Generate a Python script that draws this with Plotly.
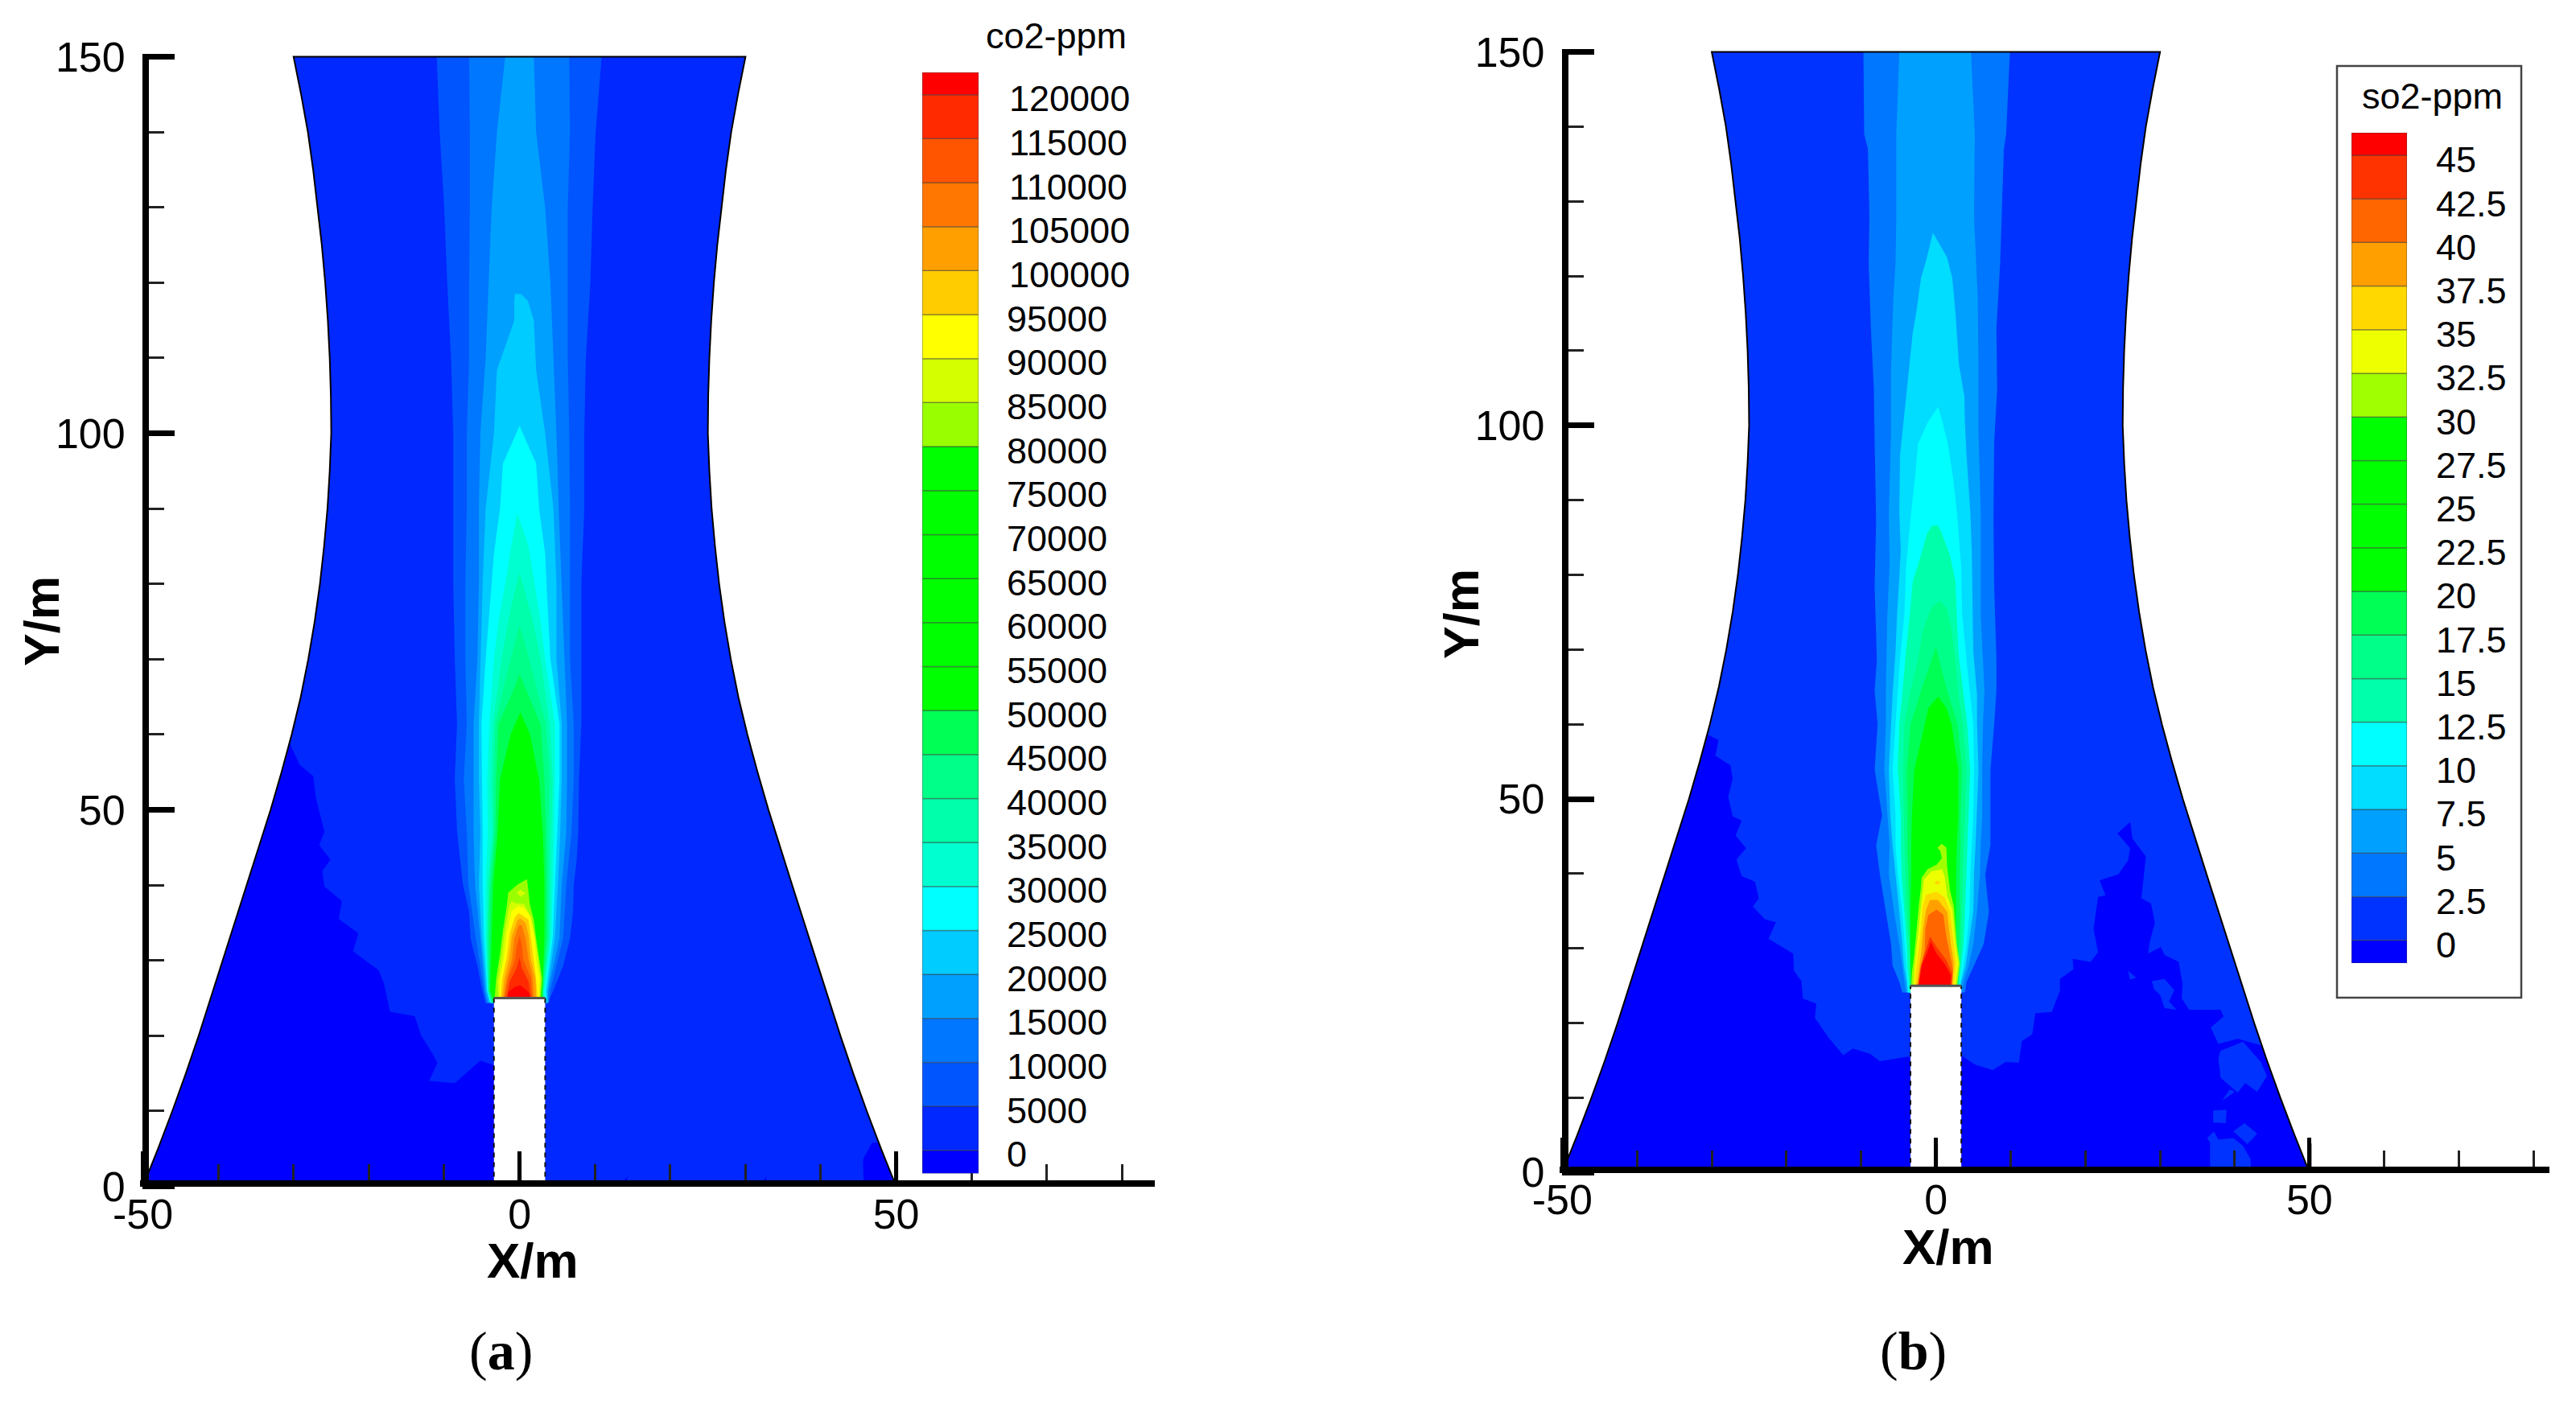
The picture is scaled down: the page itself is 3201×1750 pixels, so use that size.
import plotly.graph_objects as go

W, H = 3201, 1750
PAGE_MARGIN = 8                 # the browser's default body margin around the plot
FIG_W, FIG_H = W - PAGE_MARGIN, H - PAGE_MARGIN

# ---------- tower wall (half width against height) ----------
tower_y = [0, 5, 10, 15, 20, 25, 30, 35, 40, 45, 50, 55, 60, 65, 70, 75, 80, 85, 90, 95, 100, 105, 110, 115, 120, 125, 130, 135, 140, 145, 150]
tower_hw = [50, 48, 46.1, 44.3, 42.6, 41, 39.4, 37.8, 36.2, 34.6, 33.05, 31.6, 30.25, 29.05, 28.05, 27.2, 26.5, 25.95, 25.5, 25.2, 25, 25.05, 25.2, 25.45, 25.8, 26.25, 26.8, 27.4, 28.1, 29, 30]
stack_hw = 3.4
stack_top = 25

# ---------- legends ----------
co2_levels = [5000 * i for i in range(25)]
co2_labels = [str(v) for v in co2_levels]
co2_band_colors = ["#0000ff", "#0028ff", "#0055ff", "#0077ff", "#00a0ff", "#00ccff", "#00ffff", "#00ffd0",
                   "#00ffaa", "#00ff88", "#00ff55", "#00ff00", "#00ff00", "#00ff00", "#00ff00", "#00ff00",
                   "#00ff00", "#99ff00", "#d4ff00", "#ffff00", "#ffcc00", "#ffa000", "#ff7700", "#ff5500",
                   "#ff2a00", "#ff0000"]
co2_low, co2_high = -2625, 122530

so2_levels = [2.5 * i for i in range(19)]
so2_labels = ["0", "2.5", "5", "7.5", "10", "12.5", "15", "17.5", "20", "22.5", "25", "27.5", "30", "32.5", "35",
              "37.5", "40", "42.5", "45"]
so2_band_colors = ["#0000ff", "#0033ff", "#0077ff", "#00a0ff", "#00ddff", "#00ffff", "#00ffaa", "#00ff88",
                   "#00ff55", "#00ff00", "#00ff00", "#00ff00", "#00ff00", "#a0ff00", "#eeff00", "#ffd800",
                   "#ffa000", "#ff6600", "#ff3300", "#ff0000"]
so2_low, so2_high = -1.31, 46.29

x_tick_vals = [-50, 0, 50]
x_tick_text = ["-50", "0", "50"]
y_tick_vals = [0, 50, 100, 150]
y_tick_text = ["0", "50", "100", "150"]

# ---------- panel (a): low-concentration patches ----------
a_dark_x = [-30.5, -29.2, -27.4, -27, -25.9, -26.6, -25.1, -26.2, -25.9, -23.6, -24, -21.4, -22.1, -18.7, -18, -17.2,
            -13.9, -13.1, -11.6, -10.9, -12, -8.6, -5.2, -3.4, -3.4]
a_dark_y = [58.8, 56, 54.5, 51.4, 47.1, 45.3, 43.4, 41.9, 39.8, 37.9, 35.5, 33.6, 31.2, 28.7, 26.9, 23.2, 22.6,
            20.1, 17.7, 16.4, 14, 13.7, 16.7, 16.1, 0]
a_dark2_x = [45.7, 45.6, 46.8, 47.6, 50]
a_dark2_y = [0, 3.6, 5.8, 5.8, 0]
a_dark3_x = [13, 14.5, 13.8]
a_dark3_y = [0, 1.4, 0]
a_dark4_x = [31.9, 32.8, 32.6]
a_dark4_y = [0, 1.4, 0]

# ---------- panel (a): plume contours ----------
a_5000_y = [24.3, 25.8, 29.3, 32.9, 36.5, 40, 43.5, 47.2, 54.2, 61.4, 70, 80, 90, 100, 110, 120, 130, 140, 150]
a_5000_l = [-4.5, -4.9, -5.6, -6.5, -6.7, -7.5, -7.9, -8.3, -8.6, -8.3, -8.6, -8.8, -8.8, -8.8, -9.1, -9.6, -10, -10.6, -11]
a_5000_r = [3.7, 4.4, 5.8, 6.7, 7.1, 7.2, 7.6, 7.8, 7.9, 8.2, 8.2, 8.2, 8.6, 8.6, 8.8, 9.4, 9.7, 10.1, 10.9]

a_y = [24.4, 26, 33, 40, 47, 54, 61.4, 70, 80, 90, 100, 110, 120, 130, 140, 150]
a_10000_l = [-4.4, -4.7, -5.8, -6.8, -7, -7.4, -7, -7.2, -7.2, -7, -7, -6.7, -6.7, -6.6, -6.6, -6.7]
a_10000_r = [3.9, 4.1, 5.8, 6.2, 6.9, 7.2, 7.2, 6.7, 6.7, 6.7, 6.6, 6.4, 6.4, 6.4, 6.7, 6.6]
a_15000_l = [-4.2, -4.6, -5.2, -5.9, -6.1, -6.1, -6.1, -5.6, -5.4, -5.4, -5.2, -4.5, -4.1, -3.7, -3, -1.9]
a_15000_r = [3.8, 3.8, 5.3, 5.6, 6.2, 6.3, 6.3, 6, 5.6, 5.2, 4.9, 4.5, 4.1, 3.4, 2.2, 1.9]

a_20000_y = [24.4, 26, 33, 40, 47, 54, 61.4, 70, 80, 90, 100, 108.4, 115, 117.6, 118.5]
a_20000_l = [-4, -4.4, -5, -5.4, -5.2, -5.4, -5.4, -5.2, -4.9, -4.5, -3.4, -3, -0.7, -0.7, -0.6]
a_20000_r = [3.7, 3.7, 4.7, 5.1, 5.4, 5.6, 5.6, 4.9, 4.9, 4.5, 3.4, 2.2, 1.9, 1.1, 0.2]

a_25000_y = [24.4, 26, 33, 40, 47, 54, 61.4, 70, 77.5, 84, 90, 96, 98.5, 101]
a_25000_l = [-3.9, -4.3, -4.7, -4.9, -4.9, -5, -5.06, -4.5, -3.9, -3.4, -2.6, -2.2, -1.1, 0]
a_25000_r = [3.5, 3.5, 4.4, 4.7, 5, 5.3, 5.3, 4.1, 3.7, 3.4, 2.6, 2.2, 1.1, 0]

a_30000_y = [24.4, 26, 33, 40, 47, 54, 61.4, 70, 75, 80, 85, 89.4]
a_30000_l = [-3.8, -4.2, -4.5, -4.5, -4.2, -4.3, -4, -3.4, -2.8, -1.9, -1.1, -0.3]
a_30000_r = [3.4, 3.3, 4.2, 4.4, 4.6, 4.7, 4.7, 3.4, 2.8, 2, 1.2, -0.3]

a_35000_y = [24.4, 26, 33, 40, 47, 54, 61.4, 70, 75, 78, 81.5]
a_35000_l = [-3.7, -4.2, -4.3, -4.2, -3.6, -3.8, -3.5, -2.4, -1.5, -0.9, 0]
a_35000_r = [3.3, 3.2, 4, 4.1, 4.2, 4.4, 4, 2.8, 1.8, 1, 0]

a_40000_y = [24.4, 26, 33, 40, 47, 54, 61.4, 68, 71, 74.5]
a_40000_l = [-3.6, -4.1, -4.2, -4, -3.4, -3.4, -3.2, -1.7, -0.9, 0]
a_40000_r = [3.2, 3.1, 3.8, 3.8, 3.8, 4, 3.5, 1.8, 1, 0]

a_45000_y = [24.4, 26, 33, 40, 47, 54, 61.4, 65, 68]
a_45000_l = [-3.5, -4, -4, -3.8, -3.2, -3.1, -2.8, -1.2, 0]
a_45000_r = [3.1, 3, 3.6, 3.6, 3.5, 3.3, 2.8, 1.3, 0]

a_50000_y = [24.4, 26, 33, 40, 47, 54, 60, 63]
a_50000_l = [-3.4, -3.9, -3.7, -3.5, -2.9, -2.6, -1.2, 0.1]
a_50000_r = [3, 3, 3.3, 3.3, 3.1, 2.6, 1.4, 0.1]

# ---------- panel (a): flame contours ----------
a_80000_x = [-3.3, -3.1, -2.6, -2.2, -1.7, -1.5, -0.25, 1, 1.35, 1.9, 2.2, 2.6, 3, 2.8]
a_80000_y = [25, 27.6, 30.8, 34, 37.2, 39, 40.1, 40.8, 37.5, 35.4, 32.9, 30.1, 27.6, 25]
a_85000_x = [-2.8, -2.9, -2.4, -2, -1.4, -1, -0.6, 0.6, 1.5, 2.1, 2.5, 2.8, 2.7]
a_85000_y = [25, 27.2, 30.1, 33.6, 37.2, 37.9, 37.6, 37.5, 35.8, 32.9, 30.1, 27.6, 25]
a_85000b_x = [-0.4, 0.1, 0.8, 0.1]
a_85000b_y = [39, 39.4, 38.9, 38.5]
a_90000_x = [-2.7, -2.6, -2.1, -1.7, -1.1, -0.25, 0.6, 1.5, 2, 2.2, 2.7, 2.6]
a_90000_y = [25, 27.6, 30.1, 33.6, 36.5, 37.2, 37, 35.8, 32.9, 30.1, 27.6, 25]
a_95000_x = [-2.5, -2.3, -1.7, -1.3, -0.6, -0.1, 1.2, 1.5, 1.9, 2.2, 2.4]
a_95000_y = [25, 27.6, 30.4, 33.6, 35.8, 36.3, 35.4, 32.9, 30.1, 27.6, 25]
a_100000_x = [-2.3, -2, -1.4, -1, -0.25, 0.1, 0.8, 1.2, 1.5, 2.1, 2.2]
a_100000_y = [25, 27.6, 30.1, 33.3, 35.4, 35.6, 35, 33.3, 30.1, 27.6, 25]
a_105000_x = [-2.1, -1.7, -1, -0.7, -0.1, 0.3, 0.8, 1.2, 1.7, 1.9]
a_105000_y = [25, 27.6, 30.1, 32.9, 34.7, 34.7, 32.9, 30.1, 27.9, 25]
a_110000_x = [-2, -1.5, -0.6, -0.4, 0, 0.3, 0.5, 1.5, 1.7]
a_110000_y = [25, 27.6, 30.1, 31.8, 33.3, 32.2, 30.1, 27.6, 25]
a_115000_x = [-1.7, -1.3, -0.4, 0, 0.3, 1.2, 1.5]
a_115000_y = [25, 27.2, 29, 30.4, 29, 27.2, 25]
a_120000_x = [-1.6, -1.5, -0.6, 0.1, 1.2, 1.5]
a_120000_y = [25, 25.8, 26.5, 26.7, 25.8, 25]

# ---------- panel (b): low-concentration patches ----------
b_dark_x = [-30.5, -29.1, -29.5, -27.5, -27.2, -27.8, -27.2, -26, -26.8, -25.4, -26.7, -26, -24.2, -23.7, -24.5, -22.9,
            -21.4, -22.4, -19.1, -19, -18, -17.8, -16, -16.2, -14.4, -12.4, -11.1, -8.8, -7.5, -3.9, -3.4, -3.4]
b_dark_y = [58.6, 57.9, 55.8, 54.5, 52.7, 50.3, 47.7, 47.1, 45.1, 43.4, 41.9, 39.7, 38.9, 36.7, 35.6, 33.9, 33.5,
            31.3, 29.3, 27, 25.6, 23.3, 22.6, 20.7, 18.1, 15.7, 16.6, 15.9, 14.9, 15.5, 15.4, 0]
b_dark2_x = [3.3, 5.3, 7.6, 9.3, 11.1, 11.5, 12.9, 13.3, 15.5, 16.6, 16.6, 18.4, 18.3, 20.7, 21.7, 21.1, 21.7, 22.7,
             21.9, 24.4, 25.7, 26, 24.3, 26, 26.3, 28.1, 27.8, 27.5, 28.8, 29.3, 28.6, 28.4, 30.1, 30.6, 32.5, 33,
             32.9, 33.9, 38.1, 38.5, 36.8, 37.8, 40.4, 43.6, 46.1, 50, 3.3]
b_dark2_y = [15.7, 14.4, 13.7, 14.8, 14.7, 17.6, 18.5, 21.3, 21.5, 24.3, 25.9, 27.2, 28.6, 28.2, 29.5, 32.6, 36.9,
             37.1, 39.1, 39.9, 41.7, 43.4, 45.4, 46.9, 44.7, 42.3, 39.5, 36.7, 36, 33.4, 30.8, 29.3, 30.2, 29.1,
             28.2, 25.2, 23.3, 21.8, 21.8, 20.9, 19.4, 17.2, 17.9, 17, 10, 0, 0]
b_patch_a_x = [38.1, 41.1, 43.5, 44.3, 43, 41.4, 40.4, 38.1, 37.8]
b_patch_a_y = [16.3, 17.5, 14.8, 12.9, 10.8, 12, 10.7, 12.7, 15.3]
b_patch_b_x = [28.9, 30.6, 31.9, 31.2, 32.2, 30.6, 30, 29.2]
b_patch_b_y = [25.6, 25.9, 24.4, 22.9, 21.8, 22, 23.8, 24.5]
b_patch_c_x = [25.7, 26.8, 26]
b_patch_c_y = [27, 26.1, 25.8]
b_patch_d_x = [38.3, 40, 39.3]
b_patch_d_y = [9.6, 10.8, 11.1]
b_patch_e_x = [37.1, 38.9, 38.8, 37.1]
b_patch_e_y = [8.3, 8.4, 6.6, 6.7]
b_patch_f_x = [41.3, 43, 41.7, 39.8]
b_patch_f_y = [6.6, 5.2, 3.8, 5.5]
b_patch_g_x = [36.7, 36.7, 36.3, 37.2, 37.8, 39.8, 41.1, 42.1, 42.2]
b_patch_g_y = [0, 4, 4.6, 5.5, 4.4, 4.6, 3.6, 1.8, 0]

# ---------- panel (b): plume contours ----------
b_low = [24.1, 25.5, 27.7, 30.6, 34.9, 39.9, 43.8, 47.8, 53.9, 60]

b_2500_y = b_low + [64.5, 68.6, 78.5, 87.3, 97.8, 104.8, 113, 121.7, 128, 137, 139, 150]
b_2500_l = [-4.5, -4.9, -5.8, -6, -6.7, -7.5, -8, -7.2, -8.2, -7.8, -8.2, -7.9, -8.2, -8, -8.2, -8.3, -8.7, -9, -8.9, -9.1, -9.6, -9.7]
b_2500_r = [3.9, 4.1, 5.1, 6.4, 7.1, 6.6, 7.3, 7.3, 7.3, 7.8, 8.1, 8.1, 7.8, 7.7, 7.8, 8.2, 8.1, 8.6, 8.8, 9.1, 9.4, 9.9]

b_5_y = b_low + [64.5, 74.5, 81.5, 88.5, 99, 107.7, 117, 121.7, 128, 139, 150]
b_5_l = [-4, -4.2, -4.5, -4.9, -5.6, -6.3, -6.2, -6.5, -6.9, -6.7, -6.7, -6.5, -6.2, -6.3, -6, -6, -5.7, -5.4, -5.3, -5.3, -4.9]
b_5_r = [3.5, 3.7, 4.4, 5, 5.5, 5.9, 6, 6.2, 6.2, 6.3, 6.5, 6, 6, 6, 5.7, 5.7, 5.6, 5.4, 5.1, 5.2, 4.7]

b_75_y = b_low + [64, 69.8, 74.5, 83.2, 88.5, 96, 100, 104, 108, 112.4, 115.3, 119.7, 122.5, 125.8]
b_75_l = [-3.8, -3.9, -4.3, -4.5, -4.9, -5.4, -5.8, -6.1, -6.3, -6, -5.8, -5.4, -5.2, -4.7, -4.9, -4.8, -4.4, -4, -3.6, -3.1, -2.6, -2, -1.2, -0.4]
b_75_r = [3.3, 3.4, 4, 4.4, 5, 5.1, 5.3, 5.5, 5.7, 5.5, 5.5, 5, 4.9, 4.8, 4.6, 4.1, 3.9, 3.8, 3.1, 2.8, 2.6, 2.2, 1.5, -0.4]

b_10_y = b_low + [67.5, 75, 81, 88.5, 93, 97.5, 100.4, 102.5]
b_10_l = [-3.7, -3.8, -4, -4.2, -4.5, -5.1, -5.4, -5.4, -5.8, -5.4, -4.9, -4.2, -4, -3.3, -2.8, -2.4, -1.1, 0.3]
b_10_r = [3.2, 3.3, 3.7, 4.1, 4.5, 4.6, 4.8, 5, 5.1, 5, 4.2, 3.5, 3.4, 2.8, 2.3, 1.6, 0.9, 0.3]

b_125_y = b_low + [64, 69.8, 74.5, 79.1, 82.6, 85.5, 86.6]
b_125_l = [-3.5, -3.6, -3.8, -3.9, -4.2, -4.6, -4.7, -4.7, -5.1, -4.9, -4.5, -4, -3.5, -3.1, -2, -1.2, -0.5]
b_125_r = [3, 3.2, 3.4, 3.7, 3.9, 4.1, 4.2, 4.4, 4.6, 4.2, 3.7, 3, 2.8, 2.6, 1.9, 0.8, 0.3]

b_15_y = b_low + [64, 68.6, 72.7, 75.6, 76.5]
b_15_l = [-3.4, -3.5, -3.5, -3.6, -3.9, -4.1, -4.2, -4.3, -4.4, -4.2, -3.5, -2.4, -1.7, -0.6, 0.5]
b_15_r = [2.9, 3, 3.2, 3.4, 3.5, 3.6, 3.7, 3.9, 4.1, 3.6, 3, 2.6, 2.1, 1.4, 0.5]

b_175_y = b_low + [64.5, 68, 70.4]
b_175_l = [-3.3, -3.4, -3.4, -3.5, -3.6, -3.7, -3.8, -3.8, -3.9, -3.4, -2, -0.8, 0]
b_175_r = [2.8, 2.9, 3, 3.1, 3.2, 3.2, 3.3, 3.3, 3.5, 2.9, 1.5, 0.6, 0]

b_20_y = b_low + [62.2, 63.7]
b_20_l = [-3.3, -3.3, -3.4, -3.4, -3.4, -3.3, -3.3, -3.2, -2.9, -1.5, -1, 0.3]
b_20_r = [2.6, 2.7, 2.7, 2.7, 2.7, 2.7, 2.8, 3, 3, 2.1, 1.4, 0.3]

# ---------- panel (b): flame contours ----------
b_30_x = [-3.3, -3.2, -2.9, -2.6, -2.3, -2, -1.9, -1.1, 0.1, 0.8, 0.6, 0.2, 0.8, 1.4, 1.5, 1.9, 2.4, 2.8, 3.2, 2.8]
b_30_y = [24.8, 26.8, 29.1, 32.7, 35.6, 38.1, 39.5, 40.6, 41.2, 42.1, 43, 43.5, 44, 43.5, 41, 37.7, 35.6, 30.6, 28, 24.8]
b_325_x = [-3, -2.9, -2.7, -2.3, -2, -1.8, -1.6, -0.6, 0.8, 1.2, 1.5, 2.2, 2.6, 3, 2.6]
b_325_y = [24.8, 26.8, 29.1, 32.7, 35.6, 37.7, 39.2, 40.3, 40.6, 39.5, 37, 35.2, 30.6, 28, 24.8]
b_35_x = [-2.8, -2.7, -2.4, -2, -1.8, -1.3, 0.1, 1.2, 1.9, 2.4, 2.7, 2.4]
b_35_y = [24.8, 26.8, 29.1, 32.7, 35.6, 37.2, 37.6, 36.8, 34.9, 30.6, 28, 24.8]
b_35b_x = [-0.25, 0.2, 0.65, 0.2]
b_35b_y = [38.8, 39.1, 38.8, 38.5]
b_375_x = [-2.6, -2.3, -2, -1.7, -1.3, -0.8, 0.3, 1.5, 2, 2.4, 2.2]
b_375_y = [24.8, 27, 29.1, 32.7, 35.2, 36.5, 36.5, 34.9, 30.6, 28, 24.8]
b_40_x = [-2.4, -2.1, -1.5, -1.4, -1, 0.1, 1, 1.4, 1.9, 2.3, 2]
b_40_y = [24.8, 27, 29.8, 32.7, 34.5, 35.2, 34.5, 31.6, 29.1, 27, 24.8]
b_425_x = [-2.4, -2, -1.3, -0.8, 0.1, 1.4, 2.2, 2.1]
b_425_y = [25, 27.7, 29.9, 31.6, 30.2, 28.4, 26.6, 25]
b_45_x = [-2.3, -1.9, -1.15, -0.7, 0.1, 1.2, 2, 1.9]
b_45_y = [25, 27.7, 29.5, 30.9, 29.3, 27.9, 26.4, 25]

# ---------- panel placement (pixels of the 3201x1750 page) ----------
PANELS = {
    "a": dict(x0=645.6, sx=9.36, y0=1474.6, sy=9.36, xmax=84.3, xaxis="x", yaxis="y"),
    "b": dict(x0=2405.6, sx=9.285, y0=1457.3, sy=9.285, xmax=82.1, xaxis="x2", yaxis="y2"),
}
PAD = 0.4
X_TICK_LEN = 36


def fx(px):
    return (px - PAGE_MARGIN) / FIG_W


def fy(py):
    return (FIG_H - (py - PAGE_MARGIN)) / FIG_H


def px_x(p, v):
    return p["x0"] + v * p["sx"]


def px_y(p, v):
    return p["y0"] - v * p["sy"]


def hump(y, l, r):
    return l + r[::-1], y + y[::-1]


fig = go.Figure()


def poly(p, xs, ys, color):
    fig.add_trace(go.Scatter(x=xs, y=ys, mode="lines", fill="toself", fillcolor=color,
                             line=dict(width=0, color=color), hoverinfo="skip", showlegend=False,
                             xaxis=p["xaxis"], yaxis=p["yaxis"]))


def draw_panel(p, base_color):
    left = [-h for h in tower_hw]
    poly(p, left + tower_hw[::-1], tower_y + tower_y[::-1], base_color)


def draw_frame(p):
    left = [-h for h in tower_hw]
    # tower outline
    fig.add_trace(go.Scatter(x=left + tower_hw[::-1], y=tower_y + tower_y[::-1], mode="lines",
                             line=dict(color="#000000", width=2), hoverinfo="skip", showlegend=False,
                             xaxis=p["xaxis"], yaxis=p["yaxis"]))
    # stack
    poly(p, [-stack_hw, -stack_hw, stack_hw, stack_hw], [0, stack_top, stack_top, 0], "#ffffff")
    for sx in (-stack_hw, stack_hw):
        fig.add_trace(go.Scatter(x=[sx, sx], y=[0, stack_top], mode="lines",
                                 line=dict(color="#111111", width=2, dash="6px,6px"), hoverinfo="skip",
                                 showlegend=False, xaxis=p["xaxis"], yaxis=p["yaxis"]))
    fig.add_trace(go.Scatter(x=[-stack_hw, stack_hw], y=[stack_top, stack_top], mode="lines",
                             line=dict(color="#555555", width=3), hoverinfo="skip", showlegend=False,
                             xaxis=p["xaxis"], yaxis=p["yaxis"]))
    # long x ticks at the labelled positions
    for tv in x_tick_vals[1:]:
        fig.add_trace(go.Scatter(x=[tv, tv], y=[0, X_TICK_LEN / p["sy"]], mode="lines",
                                 line=dict(color="#000000", width=5), hoverinfo="skip", showlegend=False,
                                 xaxis=p["xaxis"], yaxis=p["yaxis"]))


# ---------- panel (a) ----------
pa = PANELS["a"]
co2_color = dict(zip(co2_levels, co2_band_colors[1:]))
draw_panel(pa, co2_color[0])
wall_up = [i for i, y in enumerate(tower_y) if 0 < y <= 55]
poly(pa, a_dark_x + [-tower_hw[0]] + [-tower_hw[i] for i in wall_up],
     a_dark_y + [0] + [tower_y[i] for i in wall_up], co2_band_colors[0])
poly(pa, a_dark2_x, a_dark2_y, co2_band_colors[0])
poly(pa, a_dark3_x, a_dark3_y, co2_band_colors[0])
poly(pa, a_dark4_x, a_dark4_y, co2_band_colors[0])

for lev, y, l, r in [
    (5000, a_5000_y, a_5000_l, a_5000_r),
    (10000, a_y, a_10000_l, a_10000_r),
    (15000, a_y, a_15000_l, a_15000_r),
    (20000, a_20000_y, a_20000_l, a_20000_r),
    (25000, a_25000_y, a_25000_l, a_25000_r),
    (30000, a_30000_y, a_30000_l, a_30000_r),
    (35000, a_35000_y, a_35000_l, a_35000_r),
    (40000, a_40000_y, a_40000_l, a_40000_r),
    (45000, a_45000_y, a_45000_l, a_45000_r),
    (50000, a_50000_y, a_50000_l, a_50000_r),
]:
    xs, ys = hump(y, l, r)
    poly(pa, xs, ys, co2_color[lev])

for lev, xs, ys in [
    (80000, a_80000_x, a_80000_y),
    (85000, a_85000_x, a_85000_y),
    (85000, a_85000b_x, a_85000b_y),
    (90000, a_90000_x, a_90000_y),
    (95000, a_95000_x, a_95000_y),
    (100000, a_100000_x, a_100000_y),
    (105000, a_105000_x, a_105000_y),
    (110000, a_110000_x, a_110000_y),
    (115000, a_115000_x, a_115000_y),
    (120000, a_120000_x, a_120000_y),
]:
    poly(pa, xs, ys, co2_color[lev])
draw_frame(pa)

# ---------- panel (b) ----------
pb = PANELS["b"]
so2_color = dict(zip(so2_levels, so2_band_colors[1:]))
draw_panel(pb, so2_color[0])
poly(pb, b_dark_x + [-tower_hw[0]] + [-tower_hw[i] for i in wall_up],
     b_dark_y + [0] + [tower_y[i] for i in wall_up], so2_band_colors[0])
poly(pb, b_dark2_x, b_dark2_y, so2_band_colors[0])
for xs, ys in [(b_patch_a_x, b_patch_a_y), (b_patch_b_x, b_patch_b_y), (b_patch_c_x, b_patch_c_y),
               (b_patch_d_x, b_patch_d_y), (b_patch_e_x, b_patch_e_y), (b_patch_f_x, b_patch_f_y),
               (b_patch_g_x, b_patch_g_y)]:
    poly(pb, xs, ys, so2_color[0])

for lev, y, l, r in [
    (2.5, b_2500_y, b_2500_l, b_2500_r),
    (5.0, b_5_y, b_5_l, b_5_r),
    (7.5, b_75_y, b_75_l, b_75_r),
    (10.0, b_10_y, b_10_l, b_10_r),
    (12.5, b_125_y, b_125_l, b_125_r),
    (15.0, b_15_y, b_15_l, b_15_r),
    (17.5, b_175_y, b_175_l, b_175_r),
    (20.0, b_20_y, b_20_l, b_20_r),
]:
    xs, ys = hump(y, l, r)
    poly(pb, xs, ys, so2_color[lev])

for lev, xs, ys in [
    (30.0, b_30_x, b_30_y),
    (32.5, b_325_x, b_325_y),
    (35.0, b_35_x, b_35_y),
    (37.5, b_375_x, b_375_y),
    (35.0, b_35b_x, b_35b_y),
    (40.0, b_40_x, b_40_y),
    (42.5, b_425_x, b_425_y),
    (45.0, b_45_x, b_45_y),
]:
    poly(pb, xs, ys, so2_color[lev])
draw_frame(pb)


# ---------- legend bars ----------
def legend_bar(levels, low, high, colors, xaxis, yaxis):
    edges = [low] + levels + [high]
    fig.add_trace(go.Bar(x=[0] * len(colors), y=[edges[i + 1] - edges[i] for i in range(len(colors))],
                         base=edges[:-1], width=1, marker=dict(color=colors, line=dict(color="rgba(60,60,60,0.45)", width=1.5)),
                         hoverinfo="skip", showlegend=False, xaxis=xaxis, yaxis=yaxis))


legend_bar(co2_levels, co2_low, co2_high, co2_band_colors, "x3", "y3")
legend_bar(so2_levels, so2_low, so2_high, so2_band_colors, "x4", "y4")

TICK_FONT = dict(family="Liberation Sans", size=52, color="#000000")


def axes_for(p):
    xl = px_x(p, -50 - PAD)
    xr = px_x(p, p["xmax"])
    yb = px_y(p, -PAD)
    yt = px_y(p, 150 + PAD)
    line_x = px_x(p, -50) + 3.5
    line_y = p["y0"] - 3.5
    xa = dict(domain=[fx(xl), fx(xr)], range=[-50 - PAD, p["xmax"]], anchor="free", automargin=False,
              position=fy(line_y), showgrid=False, zeroline=False, showline=True, linecolor="#000000",
              linewidth=8, ticks="inside", tickmode="array", tickvals=x_tick_vals, ticktext=x_tick_text,
              ticklen=X_TICK_LEN, tickwidth=5,
              tickcolor="#000000", tickfont=TICK_FONT, ticklabelstandoff=-11,
              minor=dict(ticks="inside", dtick=10, tick0=0, ticklen=20, tickwidth=2.5, tickcolor="#222222"))
    ya = dict(domain=[fy(yb), fy(yt)], range=[-PAD, 150 + PAD], anchor="free", automargin=False,
              position=fx(line_x), showgrid=False, zeroline=False, showline=True, linecolor="#000000",
              linewidth=8, ticks="inside", tickmode="array", tickvals=y_tick_vals, ticktext=y_tick_text,
              ticklen=32, tickwidth=7,
              tickcolor="#000000", tickfont=TICK_FONT, ticklabelstandoff=11,
              minor=dict(ticks="inside", dtick=10, tick0=0, ticklen=19, tickwidth=2.5, tickcolor="#222222"))
    return xa, ya


xa1, ya1 = axes_for(pa)
xa2, ya2 = axes_for(pb)


def hidden_x(px0, px1):
    return dict(domain=[fx(px0), fx(px1)], range=[-0.5, 0.5], visible=False, fixedrange=True, automargin=False)


def hidden_y(pt, pb_, rng):
    return dict(domain=[fy(pb_), fy(pt)], range=rng, visible=False, fixedrange=True, automargin=False)


annotations = []


def text(x, y, s, size, xanchor="center", family="Liberation Sans", angle=0):
    annotations.append(dict(x=fx(x), y=fy(y), xref="paper", yref="paper", text=s, showarrow=False,
                            xanchor=xanchor, yanchor="middle", textangle=angle,
                            font=dict(family=family, size=size, color="#000000")))


for lev, lab in zip(co2_levels, co2_labels):
    annotations.append(dict(x=fx(1249 if lev < 100000 else 1252), y=lev, xref="paper", yref="y3", text=lab,
                            showarrow=False, xanchor="left", yanchor="middle", yshift=-5,
                            font=dict(family="Liberation Sans", size=45, color="#000000")))
for lev, lab in zip(so2_levels, so2_labels):
    annotations.append(dict(x=fx(3025), y=lev, xref="paper", yref="y4", text=lab,
                            showarrow=False, xanchor="left", yanchor="middle", yshift=-6,
                            font=dict(family="Liberation Sans", size=45, color="#000000")))

text(1402, 45, "co2-ppm", 45, xanchor="right")
text(3112, 120, "so2-ppm", 45, xanchor="right")
text(52, 772, "<b>Y/m</b>", 61, angle=-90)
text(662, 1566, "<b>X/m</b>", 62)
text(1816, 763, "<b>Y/m</b>", 61, angle=-90)
text(2421, 1549, "<b>X/m</b>", 62)
text(622, 1679, "(<b>a</b>)", 68, family="Liberation Serif")
text(2377, 1679, "(<b>b</b>)", 68, family="Liberation Serif")

fig.update_layout(
    width=FIG_W, height=FIG_H, margin=dict(l=0, r=0, t=0, b=0, pad=0, autoexpand=False), autosize=False,
    paper_bgcolor="#ffffff", plot_bgcolor="rgba(0,0,0,0)", barmode="overlay", showlegend=False,
    xaxis=xa1, yaxis=ya1, xaxis2=xa2, yaxis2=ya2,
    xaxis3=hidden_x(1146, 1216), yaxis3=hidden_y(90, 1458.5, [co2_low, co2_high]),
    xaxis4=hidden_x(2922, 2991), yaxis4=hidden_y(165, 1197, [so2_low, so2_high]),
    annotations=annotations,
    shapes=[dict(type="rect", xref="paper", yref="paper", x0=fx(2904), x1=fx(3133), y0=fy(1240), y1=fy(82),
                 line=dict(color="#444444", width=2.5), fillcolor="#ffffff", layer="below")],
)

fig.write_html("out.html", config=dict(displayModeBar=False))
